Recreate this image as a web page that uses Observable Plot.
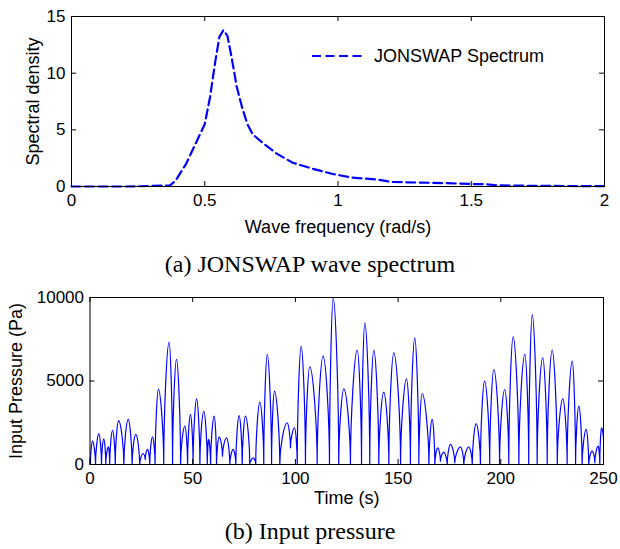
<!DOCTYPE html>
<html>
<head>
<meta charset="utf-8">
<script src="https://cdn.jsdelivr.net/npm/d3@7"></script>
<script src="https://cdn.jsdelivr.net/npm/@observablehq/plot@0.6"></script>
<style>
  html, body { margin: 0; padding: 0; background: #fff; }
  body { width: 620px; height: 549px; position: relative; overflow: hidden; }
  .panel { position: absolute; left: 0; }
  .cap { position: absolute; left: 0; width: 620px; text-align: center;
         font-family: "Liberation Serif", "Times New Roman", serif; font-size: 24px;
         line-height: 28px; color: #000; }
  #legA { position: absolute; font-family: "Liberation Sans", Arial, sans-serif; font-size: 18px; color: #000; white-space: nowrap; }
</style>
</head>
<body>
<div class="panel" id="top" style="top:0px"></div>
<div class="panel" id="bot" style="top:280px"></div>
<div id="legA"></div>
<div class="cap" id="capA" style="top:250px"></div>
<div class="cap" id="capB" style="top:517px"></div>
<script>
// ---------- Panel (a): JONSWAP spectrum ----------
const freq    = [0, 0.1, 0.2, 0.25, 0.3, 0.35, 0.37, 0.39, 0.43, 0.47, 0.5, 0.52, 0.54, 0.555, 0.57, 0.585, 0.6, 0.62, 0.64, 0.66, 0.68, 0.72, 0.77, 0.83, 0.9, 0.98, 1.05, 1.15, 1.2, 1.3, 1.4, 1.5, 1.55, 1.6, 1.7, 1.8, 1.9, 2.0];
const density = [0, 0, 0, 0.02, 0.05, 0.08, 0.1, 0.5, 2.0, 4.0, 5.5, 7.9, 11.1, 13.2, 13.8, 13.3, 11.5, 8.8, 7.0, 5.5, 4.6, 3.8, 2.9, 2.1, 1.6, 1.1, 0.8, 0.6, 0.4, 0.35, 0.3, 0.22, 0.2, 0.1, 0.07, 0.05, 0.04, 0.03];
const xTicksA = [0, 0.5, 1, 1.5, 2];
const yTicksA = [0, 5, 10, 15];
const xLabelA = "Wave frequency (rad/s)";
const yLabelA = "Spectral density";
const legendA = "JONSWAP Spectrum";
const captionA = "(a) JONSWAP wave spectrum";

// ---------- Panel (b): input pressure ----------
const time = [0,0.2,1.2,2.7,4.3,5.6,6.7,7.7,8.9,9.6,
  11.0,12.3,13.9,16.5,18.6,20.5,22.3,24.2,25.9,26.9,
  28.0,29.1,30.4,31.7,33.3,35.9,38.5,40.2,42.1,44.1,
  46.2,47.5,48.9,50.2,51.9,53.5,55.4,57.1,57.8,58.7,
  60.5,61.6,62.9,64.5,66.5,68.1,69.7,71.0,72.6,74.1,
  75.7,77.8,79.5,80.7,82.7,84.6,86.3,88.4,89.8,92.4,
  96.0,97.6,99.6,100.9,102.8,104.9,107.0,110.6,113.5,116.6,
  118.4,121.1,123.6,126.8,130.1,132.2,133.8,136.2,138.2,140.6,
  143.0,145.5,147.9,151.2,154.1,156.0,158.1,160.1,161.7,165.0,
  166.6,167.9,169.3,170.6,172.2,173.9,175.5,177.6,180.4,182.0,
  184.4,186.1,188.0,190.1,192.1,194.6,196.6,199.4,201.9,203.9,
  206.0,208.8,211.7,213.6,215.3,217.7,220.4,222.6,225.0,227.5,
  230.2,232.3,234.8,236.4,238.0,239.6,241.6,242.8,244.5,245.8,
  247.4,248.2,249.0,250];
const pressure = [400,0,1400,0,1850,0,1540,0,1060,0,
  2050,0,2630,0,2700,0,1800,0,660,300,
  900,0,1650,0,4500,0,7330,0,6290,0,
  2300,0,3000,0,3930,0,3190,0,1500,0,
  2900,0,1650,500,1600,0,900,0,2930,0,
  2900,0,400,0,3730,0,6590,0,4390,0,
  2500,1000,2200,0,7090,0,5850,0,6490,0,
  9980,0,4530,0,6850,0,8480,0,6850,0,
  4330,0,6690,0,5130,0,7580,0,4250,0,
  2700,0,1000,200,740,0,1200,100,1060,0,
  1060,0,2450,0,4990,0,5690,0,4490,0,
  7640,0,6590,0,8980,0,6390,0,6850,0,
  3930,0,6190,0,3490,0,2100,0,800,100,
  1100,0,2200,1500];
const xTicksB = [0, 50, 100, 150, 200, 250];
const yTicksB = [0, 5000, 10000];
const xLabelB = "Time (s)";
const yLabelB = "Input Pressure (Pa)";
const captionB = "(b) Input pressure";

const FONT = '"Liberation Sans", Arial, Helvetica, sans-serif';
const BLUE = "#0000ff";
const TICK = 5;

// rendering style for the pressure trace: sharp at the minima, moderately rounded at the maxima
function lobeCurve(context) {
  let x0, y0, n = 0;
  return {
    areaStart() {}, areaEnd() {},
    lineStart() { n = 0; },
    lineEnd() {},
    point(x, y) {
      x = +x; y = +y;
      if (n === 0) context.moveTo(x, y);
      else {
        const k = 0.4;
        if (y < y0) context.bezierCurveTo(x0, y0 + (y - y0) * k, x - (x - x0) * k, y, x, y);
        else context.bezierCurveTo(x0 + (x - x0) * k, y0, x, y + (y0 - y) * k, x, y);
      }
      x0 = x; y0 = y; n++;
    }
  };
}

function panel({W, H, mt, mr, mb, ml, xDomain, yDomain, xTicks, yTicks, xLabel, yLabel,
                xLabelDy, yLabelDx, marks}) {
  const iw = W - ml - mr, ih = H - mt - mb;
  return Plot.plot({
    width: W, height: H,
    marginTop: mt, marginRight: mr, marginBottom: mb, marginLeft: ml,
    style: {fontFamily: FONT, fontSize: "17px", color: "#000", background: "transparent", overflow: "visible"},
    x: {domain: xDomain, ticks: xTicks, tickSize: 0, tickPadding: 7, label: null, tickFormat: d => String(d)},
    y: {domain: yDomain, ticks: yTicks, tickSize: 0, tickPadding: 6, label: null, tickFormat: d => String(d)},
    marks: [
      ...marks,
      Plot.frame({stroke: "#000", strokeWidth: 1}),
      Plot.tickX(xTicks, {x: d => d, insetTop: ih - TICK, stroke: "#000"}),
      Plot.tickX(xTicks, {x: d => d, insetBottom: ih - TICK, stroke: "#000"}),
      Plot.tickY(yTicks, {y: d => d, insetRight: iw - TICK, stroke: "#000"}),
      Plot.tickY(yTicks, {y: d => d, insetLeft: iw - TICK, stroke: "#000"}),
      Plot.text([xLabel], {frameAnchor: "bottom", dy: xLabelDy, text: d => d, fontSize: 18, fill: "#000",
                           textAnchor: "middle", lineAnchor: "middle"}),
      Plot.text([yLabel], {frameAnchor: "left", dx: yLabelDx, rotate: -90, text: d => d, fontSize: 18, fill: "#000",
                           textAnchor: "middle", lineAnchor: "middle"})
    ]
  });
}

const rowsA = freq.map((f, i) => ({f, s: density[i]}));
const plotA = panel({
  W: 620, H: 240, mt: 16, mr: 16, mb: 54, ml: 71,
  xDomain: [0, 2], yDomain: [0, 15], xTicks: xTicksA, yTicks: yTicksA,
  xLabel: xLabelA, yLabel: yLabelA, xLabelDy: 41, yLabelDx: -38,
  marks: [Plot.line(rowsA, {x: "f", y: "s", stroke: BLUE, strokeWidth: 2.2, strokeDasharray: "9,4.5"})]
});
document.getElementById("top").appendChild(plotA);

const rowsB = time.map((t, i) => ({t, p: pressure[i]}));
const plotB = panel({
  W: 620, H: 234, mt: 17, mr: 17, mb: 50, ml: 89.5,
  xDomain: [0, 250], yDomain: [0, 10000], xTicks: xTicksB, yTicks: yTicksB,
  xLabel: xLabelB, yLabel: yLabelB, xLabelDy: 34, yLabelDx: -74,
  marks: [Plot.line(rowsB, {x: "t", y: "p", stroke: BLUE, strokeWidth: 1.2, curve: lobeCurve})]
});
document.getElementById("bot").appendChild(plotB);

// legend for panel (a)
const leg = document.getElementById("legA");
leg.style.left = "311px";
leg.style.top = "45px";
leg.innerHTML = '<svg width="56" height="20" style="vertical-align:middle"><line x1="1" y1="10" x2="55" y2="10" stroke="' + BLUE +
  '" stroke-width="2.2" stroke-dasharray="9,4.5"/></svg><span style="margin-left:7px;vertical-align:middle">' + legendA + '</span>';

document.getElementById("capA").textContent = captionA;
document.getElementById("capB").textContent = captionB;
</script>
</body>
</html>
